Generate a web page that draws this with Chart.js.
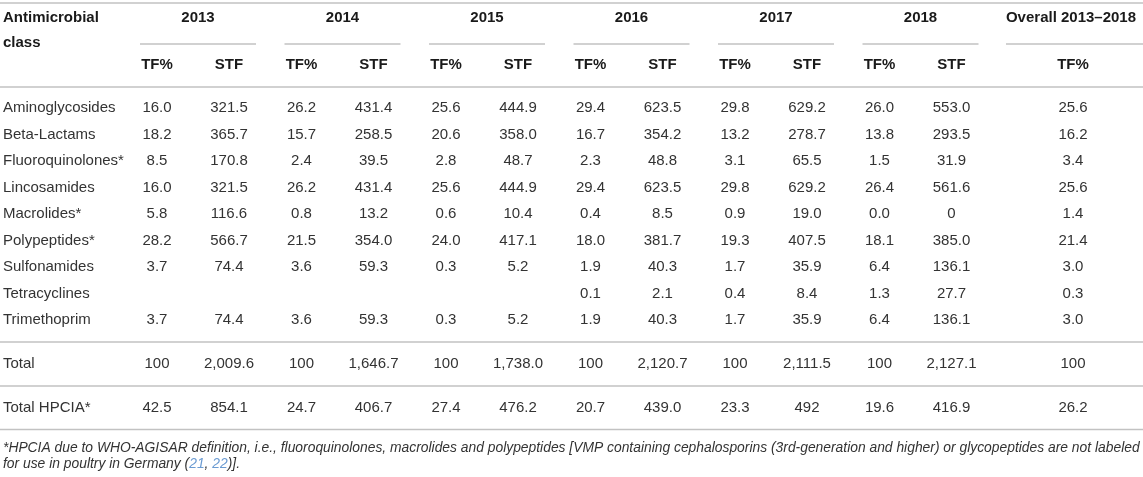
<!DOCTYPE html>
<html>
<head>
<meta charset="utf-8">
<script src="https://cdn.jsdelivr.net/npm/chart.js@4.4.1/dist/chart.umd.min.js"></script>
<style>
    html, body { margin: 0; padding: 0; background: #fff; }
    canvas { display: block; }
</style>
</head>
<body>
<canvas id="table" width="1143" height="477"></canvas>
<script>
// #region data
const years = ['2013', '2014', '2015', '2016', '2017', '2018'];
const classes = [
    'Aminoglycosides', 'Beta-Lactams', 'Fluoroquinolones*', 'Lincosamides',
    'Macrolides*', 'Polypeptides*', 'Sulfonamides', 'Tetracyclines', 'Trimethoprim'
];

const tf2013 = ['16.0', '18.2', '8.5', '16.0', '5.8', '28.2', '3.7', '', '3.7'];
const stf2013 = ['321.5', '365.7', '170.8', '321.5', '116.6', '566.7', '74.4', '', '74.4'];
const tf2014 = ['26.2', '15.7', '2.4', '26.2', '0.8', '21.5', '3.6', '', '3.6'];
const stf2014 = ['431.4', '258.5', '39.5', '431.4', '13.2', '354.0', '59.3', '', '59.3'];
const tf2015 = ['25.6', '20.6', '2.8', '25.6', '0.6', '24.0', '0.3', '', '0.3'];
const stf2015 = ['444.9', '358.0', '48.7', '444.9', '10.4', '417.1', '5.2', '', '5.2'];
const tf2016 = ['29.4', '16.7', '2.3', '29.4', '0.4', '18.0', '1.9', '0.1', '1.9'];
const stf2016 = ['623.5', '354.2', '48.8', '623.5', '8.5', '381.7', '40.3', '2.1', '40.3'];
const tf2017 = ['29.8', '13.2', '3.1', '29.8', '0.9', '19.3', '1.7', '0.4', '1.7'];
const stf2017 = ['629.2', '278.7', '65.5', '629.2', '19.0', '407.5', '35.9', '8.4', '35.9'];
const tf2018 = ['26.0', '13.8', '1.5', '26.4', '0.0', '18.1', '6.4', '1.3', '6.4'];
const stf2018 = ['553.0', '293.5', '31.9', '561.6', '0', '385.0', '136.1', '27.7', '136.1'];
const tfOverall = ['25.6', '16.2', '3.4', '25.6', '1.4', '21.4', '3.0', '0.3', '3.0'];

const totalTF = ['100', '100', '100', '100', '100', '100'];
const totalSTF = ['2,009.6', '1,646.7', '1,738.0', '2,120.7', '2,111.5', '2,127.1'];
const totalOverall = '100';
const hpciaTF = ['42.5', '24.7', '27.4', '20.7', '23.3', '19.6'];
const hpciaSTF = ['854.1', '406.7', '476.2', '439.0', '492', '416.9'];
const hpciaOverall = '26.2';

const footnote1 = '*HPCIA due to WHO-AGISAR definition, i.e., fluoroquinolones, macrolides and polypeptides [VMP containing cephalosporins (3rd-generation and higher) or glycopeptides are not labeled';
const footnote2 = ['for use in poultry in Germany (', '21', ', ', '22', ')].'];
// #endregion data

const tfCols = [tf2013, tf2014, tf2015, tf2016, tf2017, tf2018];
const stfCols = [stf2013, stf2014, stf2015, stf2016, stf2017, stf2018];

// layout (scale units == css px)
const
    groupStart = 140,
    groupStep = 144.5,
    groupWidth = 116,
    tfOffset = 17,
    stfOffset = 89,
    overallX = 1073,
    rowTop = 108,
    rowStep = 26.5;

const
    textColor = '#333',
    headColor = '#1a1a1a',
    ruleColor = '#c2c2c2',
    linkColor = '#6b9bd2',
    font = '"Liberation Sans", Arial, sans-serif';

function hline(ctx, x, y, x1, x2, yv) {
    ctx.beginPath();
    ctx.moveTo(x.getPixelForValue(x1), y.getPixelForValue(yv));
    ctx.lineTo(x.getPixelForValue(x2), y.getPixelForValue(yv));
    ctx.stroke();
}

function cell(ctx, x, y, text, xv, yv, align) {
    if (!text) return;
    ctx.textAlign = align || 'center';
    ctx.fillText(text, x.getPixelForValue(xv), y.getPixelForValue(yv));
}

const tablePlugin = {
    id: 'tablePlugin',
    afterDraw(chart) {
        const ctx = chart.ctx, x = chart.scales.x, y = chart.scales.y;
        ctx.save();
        ctx.textBaseline = 'middle';

        // rules
        ctx.strokeStyle = ruleColor;
        ctx.lineWidth = 1.5;
        hline(ctx, x, y, 0, 1143, 3);
        hline(ctx, x, y, 0, 1143, 87);
        hline(ctx, x, y, 0, 1143, 342);
        hline(ctx, x, y, 0, 1143, 386);
        hline(ctx, x, y, 0, 1143, 429.5);
        years.forEach((yr, i) => {
            const s = groupStart + i * groupStep;
            hline(ctx, x, y, s, s + groupWidth, 44);
        });
        hline(ctx, x, y, 1006, 1143, 44);

        // header
        ctx.fillStyle = headColor;
        ctx.font = 'bold 15px ' + font;
        cell(ctx, x, y, 'Antimicrobial', 3, 18, 'left');
        cell(ctx, x, y, 'class', 3, 43, 'left');
        years.forEach((yr, i) => {
            const s = groupStart + i * groupStep;
            cell(ctx, x, y, yr, s + groupWidth / 2, 18);
            cell(ctx, x, y, 'TF%', s + tfOffset, 65);
            cell(ctx, x, y, 'STF', s + stfOffset, 65);
        });
        cell(ctx, x, y, 'Overall 2013\u20132018', 1071, 18);
        cell(ctx, x, y, 'TF%', overallX, 65);

        // body
        ctx.fillStyle = textColor;
        ctx.font = '15px ' + font;
        classes.forEach((name, r) => {
            const yv = rowTop + r * rowStep;
            cell(ctx, x, y, name, 3, yv, 'left');
            years.forEach((yr, i) => {
                const s = groupStart + i * groupStep;
                cell(ctx, x, y, tfCols[i][r], s + tfOffset, yv);
                cell(ctx, x, y, stfCols[i][r], s + stfOffset, yv);
            });
            cell(ctx, x, y, tfOverall[r], overallX, yv);
        });

        cell(ctx, x, y, 'Total', 3, 363.5, 'left');
        cell(ctx, x, y, 'Total HPCIA*', 3, 408, 'left');
        years.forEach((yr, i) => {
            const s = groupStart + i * groupStep;
            cell(ctx, x, y, totalTF[i], s + tfOffset, 363.5);
            cell(ctx, x, y, totalSTF[i], s + stfOffset, 363.5);
            cell(ctx, x, y, hpciaTF[i], s + tfOffset, 408);
            cell(ctx, x, y, hpciaSTF[i], s + stfOffset, 408);
        });
        cell(ctx, x, y, totalOverall, overallX, 363.5);
        cell(ctx, x, y, hpciaOverall, overallX, 408);

        // footnote
        ctx.font = 'italic 13.85px ' + font;
        cell(ctx, x, y, footnote1, 3, 448, 'left');
        let px = x.getPixelForValue(3);
        footnote2.forEach((part, i) => {
            ctx.fillStyle = (i === 1 || i === 3) ? linkColor : textColor;
            ctx.textAlign = 'left';
            ctx.fillText(part, px, y.getPixelForValue(464));
            px += ctx.measureText(part).width;
        });
        ctx.restore();
    }
};

new Chart(document.getElementById('table'), {
    type: 'scatter',
    data: { datasets: [] },
    options: {
        responsive: false,
        animation: false,
        layout: { padding: 0 },
        plugins: { legend: { display: false }, tooltip: { enabled: false } },
        scales: {
            x: { type: 'linear', min: 0, max: 1143, display: false },
            y: { type: 'linear', min: 0, max: 477, reverse: true, display: false }
        }
    },
    plugins: [tablePlugin]
});
</script>
</body>
</html>
